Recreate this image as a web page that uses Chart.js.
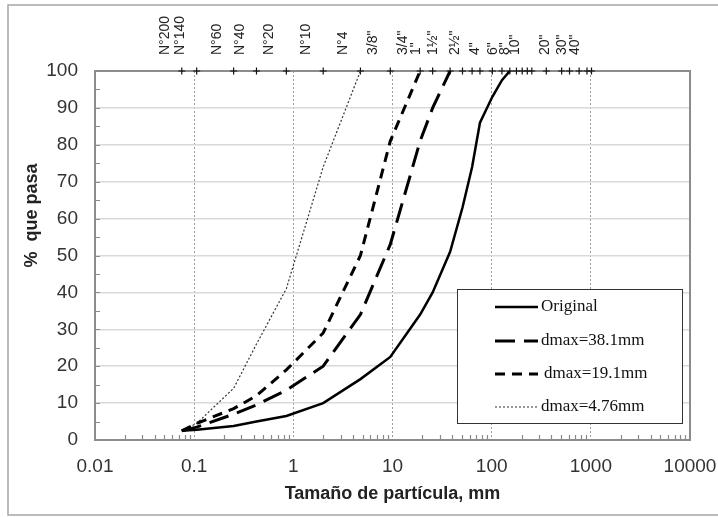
<!DOCTYPE html>
<html>
<head>
<meta charset="utf-8">
<title>Curva granulométrica</title>
<script src="https://cdn.jsdelivr.net/npm/chart.js@4.4.1/dist/chart.umd.min.js"></script>
<style>
  html, body { margin: 0; padding: 0; background: #fff; }
  #wrap { width: 718px; height: 517px; }
</style>
</head>
<body>
<div id="wrap"><canvas id="grading"></canvas></div>
<script>
// Sieve openings (mm) where passing was measured
const sieveSizes = [0.075, 0.106, 0.25, 0.425, 0.85, 2.0, 4.75, 9.5, 19.0, 25.4, 38.1, 50.8, 63.5, 76.2, 101.6, 127, 152.4];

// % passing for each gradation (same order as sieveSizes)
const passOriginal = [2.5, 2.8, 3.8, 5, 6.5, 10, 16.5, 22.5, 34, 40, 51, 63, 74, 86, 93, 97.5, 100];
const passD38 = [2.5, 3.5, 7, 9.5, 13.5, 20, 34, 53, 81, 90, 100];
const passD19 = [2.5, 4.5, 8.5, 12, 19, 29, 50, 81, 100];
const passD476 = [2.5, 4.5, 14, 26, 41, 74, 100];

const seriesNames = ['Original', 'dmax=38.1mm', 'dmax=19.1mm', 'dmax=4.76mm'];

// Sieve designations along the top edge
const topSieves = [0.075, 0.106, 0.25, 0.425, 0.85, 2.0, 4.75, 9.5, 19.0, 25.4, 38.1, 63.5, 101.6, 152.4, 203.2, 254, 508, 762, 1016];
const topLabels = ['N°200', 'N°140', 'N°60', 'N°40', 'N°20', 'N°10', 'N°4', '3/8"', '3/4"', '1"', '1½"', '2½"', '4"', '6"', '8"', '10"', '20"', '30"', '40"'];
// every sieve in the series, marked with a cross at 100 %
const sieveMarks = [0.075, 0.106, 0.25, 0.425, 0.85, 2.0, 4.75, 9.5, 19.0, 25.4, 38.1, 50.8, 63.5, 76.2, 101.6, 127, 152.4, 177.8, 203.2, 228.6, 254, 355.6, 508, 609.6, 762, 914.4, 1016];

const xTicks = [0.01, 0.1, 1, 10, 100, 1000, 10000];

const pts = (vals) => vals.map((v, i) => ({ x: sieveSizes[i], y: v }));

// keep edge labels from pushing the plot area inwards
const noEdgePad = (s) => { s.paddingLeft = 0; s.paddingRight = 0; };

// white page, thin outer frame
const pageFrame = {
    id: 'pageFrame',
    beforeDraw(chart) {
        const ctx = chart.ctx;
        ctx.save();
        ctx.fillStyle = '#fff';
        ctx.fillRect(0, 0, chart.width, chart.height);
        ctx.strokeStyle = '#a6a6a6';
        ctx.lineWidth = 1.5;
        ctx.strokeRect(8, 5, chart.width + 10, chart.height - 7);
        ctx.restore();
    }
};

// plot border plus the small inward ticks on both axes
const plotFrame = {
    id: 'plotFrame',
    beforeDatasetsDraw(chart) {
        const { ctx, chartArea: a, scales } = chart;
        ctx.save();
        ctx.strokeStyle = '#8a8a8a';
        ctx.lineWidth = 1.2;
        ctx.beginPath();
        for (let d = 0.01; d < 10000; d *= 10) {
            for (let k = 2; k <= 9; k++) {
                const px = Math.round(scales.x.getPixelForValue(d * k)) + 0.5;
                ctx.moveTo(px, a.bottom);
                ctx.lineTo(px, a.bottom - 5);
            }
        }
        for (let v = 5; v < 100; v += 5) {
            const py = Math.round(scales.y.getPixelForValue(v)) + 0.5;
            ctx.moveTo(a.left, py);
            ctx.lineTo(a.left + 5, py);
        }
        ctx.stroke();
        ctx.strokeStyle = '#8c8c8c';
        ctx.lineWidth = 2;
        ctx.strokeRect(a.left, a.top, a.right - a.left, a.bottom - a.top);
        ctx.restore();
    }
};

// boxed legend inside the plot, lines taken from the datasets
const boxLegend = {
    id: 'boxLegend',
    afterDatasetsDraw(chart) {
        const ctx = chart.ctx;
        const rows = [307, 341, 374, 407];
        ctx.save();
        ctx.fillStyle = '#fff';
        ctx.fillRect(457, 289, 225, 134);
        ctx.strokeStyle = '#333';
        ctx.lineWidth = 1;
        ctx.strokeRect(457.5, 289.5, 225, 134);
        seriesNames.forEach((name, i) => {
            const ds = chart.data.datasets[i];
            ctx.strokeStyle = ds.borderColor;
            ctx.lineWidth = ds.borderWidth;
            ctx.setLineDash(ds.borderDash);
            ctx.beginPath();
            ctx.moveTo(495, rows[i]);
            ctx.lineTo(538, rows[i]);
            ctx.stroke();
            ctx.setLineDash([]);
            ctx.fillStyle = '#111';
            ctx.font = '17px "Liberation Serif", "Times New Roman", serif';
            ctx.textBaseline = 'middle';
            ctx.fillText(name, i === 2 ? 544 : 541, rows[i]);
        });
        ctx.restore();
    }
};

const ctx = document.getElementById('grading').getContext('2d');

new Chart(ctx, {
    type: 'line',
    data: {
        datasets: [
            { label: seriesNames[0], data: pts(passOriginal), borderColor: '#000', borderWidth: 2.5, borderDash: [] },
            { label: seriesNames[1], data: pts(passD38), borderColor: '#000', borderWidth: 3, borderDash: [20, 9] },
            { label: seriesNames[2], data: pts(passD19), borderColor: '#000', borderWidth: 3, borderDash: [10, 7] },
            { label: seriesNames[3], data: pts(passD476), borderColor: '#333', borderWidth: 1.2, borderDash: [2, 2] },
            {
                label: 'Tamices',
                data: sieveMarks.map(s => ({ x: s, y: 100 })),
                showLine: false,
                pointStyle: 'cross',
                pointRadius: 3.5,
                pointBorderWidth: 1.2,
                pointBorderColor: '#111',
                clip: false
            }
        ]
    },
    options: {
        responsive: true,
        maintainAspectRatio: false,
        animation: false,
        elements: {
            point: { radius: 0 },
            line: { tension: 0, fill: false }
        },
        layout: { padding: { left: 0, right: 28, top: 0, bottom: 0 } },
        plugins: {
            legend: { display: false },
            tooltip: { enabled: false }
        },
        scales: {
            x: {
                type: 'logarithmic',
                position: 'bottom',
                min: 0.01,
                max: 10000,
                afterBuildTicks: (s) => { s.ticks = xTicks.map(v => ({ value: v })); },
                afterFit: (s) => { s.height = 77; noEdgePad(s); },
                ticks: {
                    autoSkip: false,
                    maxRotation: 0,
                    padding: 15,
                    color: '#333',
                    font: { family: '"Liberation Sans", Arial, sans-serif', size: 19 },
                    callback: (v) => String(v)
                },
                grid: {
                    drawTicks: false,
                    lineWidth: 1,
                    color: (c) => (c.tick && c.tick.value > 0.01 && c.tick.value < 10000) ? '#9a9a9a' : 'rgba(0,0,0,0)'
                },
                border: { display: false, dash: [2, 2] },
                title: {
                    display: true,
                    text: 'Tamaño de partícula, mm',
                    color: '#222',
                    font: { family: '"Liberation Sans", Arial, sans-serif', size: 18, weight: 'bold' },
                    padding: { top: 0, bottom: 12 }
                }
            },
            x2: {
                type: 'logarithmic',
                position: 'top',
                min: 0.01,
                max: 10000,
                afterBuildTicks: (s) => { s.ticks = topSieves.map(v => ({ value: v })); },
                afterFit: (s) => { s.height = 71; noEdgePad(s); },
                ticks: {
                    autoSkip: false,
                    minRotation: 90,
                    maxRotation: 90,
                    padding: 16,
                    color: '#222',
                    font: { family: '"Liberation Sans", Arial, sans-serif', size: 14 },
                    callback: (v, i) => topLabels[i]
                },
                grid: { display: false, drawTicks: false },
                border: { display: false }
            },
            y: {
                min: 0,
                max: 100,
                afterFit: (s) => { s.width = 95; },
                ticks: {
                    stepSize: 10,
                    padding: 17,
                    color: '#333',
                    font: { family: '"Liberation Sans", Arial, sans-serif', size: 19 }
                },
                grid: {
                    drawTicks: false,
                    lineWidth: 1.5,
                    color: (c) => (c.tick && c.tick.value > 0 && c.tick.value < 100) ? '#d9d9d9' : 'rgba(0,0,0,0)'
                },
                border: { display: false },
                title: {
                    display: true,
                    text: '                %  que pasa',
                    color: '#222',
                    font: { family: '"Liberation Sans", Arial, sans-serif', size: 18, weight: 'bold' },
                    padding: { top: 21, bottom: 0 }
                }
            }
        }
    },
    plugins: [pageFrame, plotFrame, boxLegend]
});
</script>
</body>
</html>
